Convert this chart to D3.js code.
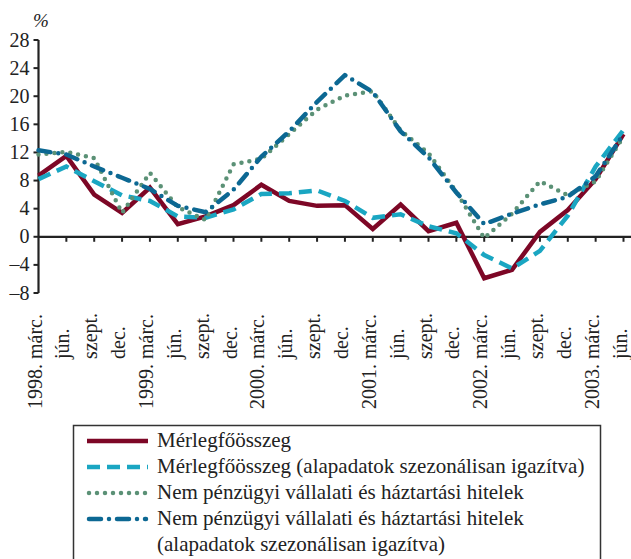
<!DOCTYPE html>
<html>
<head>
<meta charset="utf-8">
<script src="https://cdn.jsdelivr.net/npm/d3@7"></script>
</head>
<body style="margin:0;background:#fff">
<svg id="chart" width="631" height="559"></svg>
<script>
// quarters, 1998 márc. .. 2003 jún.
var years = ["1998.", "", "", "", "1999.", "", "", "", "2000.", "", "", "", "2001.", "", "", "", "2002.", "", "", "", "2003.", ""];
var months = ["márc.", "jún.", "szept.", "dec.", "márc.", "jún.", "szept.", "dec.", "márc.", "jún.", "szept.", "dec.",
              "márc.", "jún.", "szept.", "dec.", "márc.", "jún.", "szept.", "dec.", "márc.", "jún."];

// annual growth, %
var merleg = [8.7, 11.5, 6.0, 3.4, 7.0, 1.8, 2.9, 4.5, 7.4, 5.1, 4.4, 4.5, 1.1, 4.6, 0.8, 2.0, -5.9, -4.7, 0.7, 3.8, 8.2, 14.6];
var merlegSA = [8.2, 10.0, 7.9, 5.9, 5.1, 2.9, 2.7, 3.9, 6.1, 6.2, 6.6, 5.1, 2.7, 3.2, 1.5, 0.5, -2.6, -4.5, -2.0, 3.0, 10.0, 15.2];
var hitel = [11.7, 12.1, 11.2, 3.4, 9.1, 4.2, 2.4, 10.3, 11.1, 14.6, 18.1, 20.1, 20.7, 15.1, 11.9, 6.4, -0.2, 3.3, 7.9, 5.9, 7.9, 14.3];
var hitelSA = [12.3, 11.7, 10.0, 8.4, 6.8, 4.4, 3.5, 6.7, 11.4, 15.0, 19.2, 23.0, 20.6, 15.0, 11.3, 6.3, 1.8, 3.3, 4.6, 5.7, 8.6, 14.6];

var yTicks = [-8, -4, 0, 4, 8, 12, 16, 20, 24, 28];

var series = [
  {name: "Mérlegfőösszeg", values: merleg, color: "#7d0726", dash: null, cap: "butt"},
  {name: "Mérlegfőösszeg (alapadatok szezonálisan igazítva)", values: merlegSA, color: "#1aa6c2", dash: "13,7", cap: "butt"},
  {name: "Nem pénzügyi vállalati és háztartási hitelek", values: hitel, color: "#5b9176", dash: "0,8", cap: "round"},
  {name: ["Nem pénzügyi vállalati és háztartási hitelek", "(alapadatok szezonálisan igazítva)"], values: hitelSA, color: "#0c6893", dash: "12,8,0,8", cap: "round"}
];

var FONT = "'Liberation Serif', monospace";
var svg = d3.select("#chart");

var x = d3.scalePoint().domain(d3.range(months.length)).range([38.5, 623.5]);
var y = d3.scaleLinear().domain([-8, 28]).range([293, 40]);

// y axis (drawn by hand so the font is not forced by d3.axis)
var yAxis = svg.append("g").attr("transform", "translate(38.5,0)");
yAxis.append("line").attr("y1", y(-8)).attr("y2", y(28)).attr("stroke", "#222").attr("stroke-width", 2.2);
var yt = yAxis.selectAll("g").data(yTicks).enter().append("g")
  .attr("transform", function(d) { return "translate(0," + y(d) + ")"; });
yt.append("line").attr("x1", -5).attr("x2", 0).attr("stroke", "#222").attr("stroke-width", 2);
yt.append("text").attr("x", -9).attr("dy", "0.33em").attr("text-anchor", "end")
  .attr("font-size", 20).attr("fill", "#222").style("font-family", FONT)
  .text(function(d) { return d < 0 ? "\u2013" + Math.abs(d) : d; });

svg.append("text").attr("x", 41).attr("y", 27).attr("text-anchor", "middle")
  .attr("font-size", 19).attr("font-style", "italic").attr("fill", "#222").style("font-family", FONT).text("%");

// x axis at zero
var xAxis = svg.append("g").attr("transform", "translate(0," + y(0) + ")");
xAxis.append("line").attr("x1", 38.5).attr("x2", 631).attr("stroke", "#222").attr("stroke-width", 2.2);
xAxis.selectAll("line.tk").data(d3.range(1, months.length)).enter().append("line")
  .attr("class", "tk")
  .attr("x1", function(i) { return x(i); }).attr("x2", function(i) { return x(i); })
  .attr("y1", 0).attr("y2", 5).attr("stroke", "#222").attr("stroke-width", 2);

// category labels (rotated), months aligned as if year prefix were there
var probe = svg.append("text").attr("font-size", 20).style("font-family", FONT).text("1998.\u00a0");
var prefixW = probe.node().getComputedTextLength();
probe.remove();
var labelBase = 409;
svg.append("g").selectAll("text").data(d3.range(months.length)).enter().append("text")
  .attr("font-size", 20).attr("fill", "#222").style("font-family", FONT)
  .attr("transform", function(i) {
    var yy = years[i] ? labelBase : labelBase - prefixW;
    return "translate(" + (x(i) + 3) + "," + yy + ") rotate(-90)";
  })
  .text(function(i) { return years[i] ? years[i] + "\u00a0" + months[i] : months[i]; });

// lines
var line = d3.line().x(function(d, i) { return x(i); }).y(function(d) { return y(d); });
svg.append("g").selectAll("path").data(series).enter().append("path")
  .attr("d", function(s) { return line(s.values); })
  .attr("fill", "none")
  .attr("stroke", function(s) { return s.color; })
  .attr("stroke-width", 4.5)
  .attr("stroke-dasharray", function(s) { return s.dash; })
  .attr("stroke-linecap", function(s) { return s.cap; })
  .attr("stroke-linejoin", function(s) { return s.cap === "round" ? "round" : "miter"; });

// legend
var lg = svg.append("g");
lg.append("rect").attr("x", 73.5).attr("y", 425.5).attr("width", 527).attr("height", 150)
  .attr("fill", "#fff").attr("stroke", "#333").attr("stroke-width", 1.5);
var rowY = [441, 467, 493, 519];
series.forEach(function(s, k) {
  var yy = rowY[k];
  lg.append("line").attr("x1", s.cap === "round" ? 89 : 87).attr("x2", s.cap === "round" ? 146 : 148)
    .attr("y1", yy).attr("y2", yy)
    .attr("stroke", s.color).attr("stroke-width", 4.5)
    .attr("stroke-dasharray", s.dash).attr("stroke-linecap", s.cap);
  var names = Array.isArray(s.name) ? s.name : [s.name];
  names.forEach(function(t, j) {
    lg.append("text").attr("x", 157).attr("y", yy + 6 + j * 26)
      .attr("font-size", 21).attr("fill", "#222").style("font-family", FONT).text(t);
  });
});
</script>
</body>
</html>
